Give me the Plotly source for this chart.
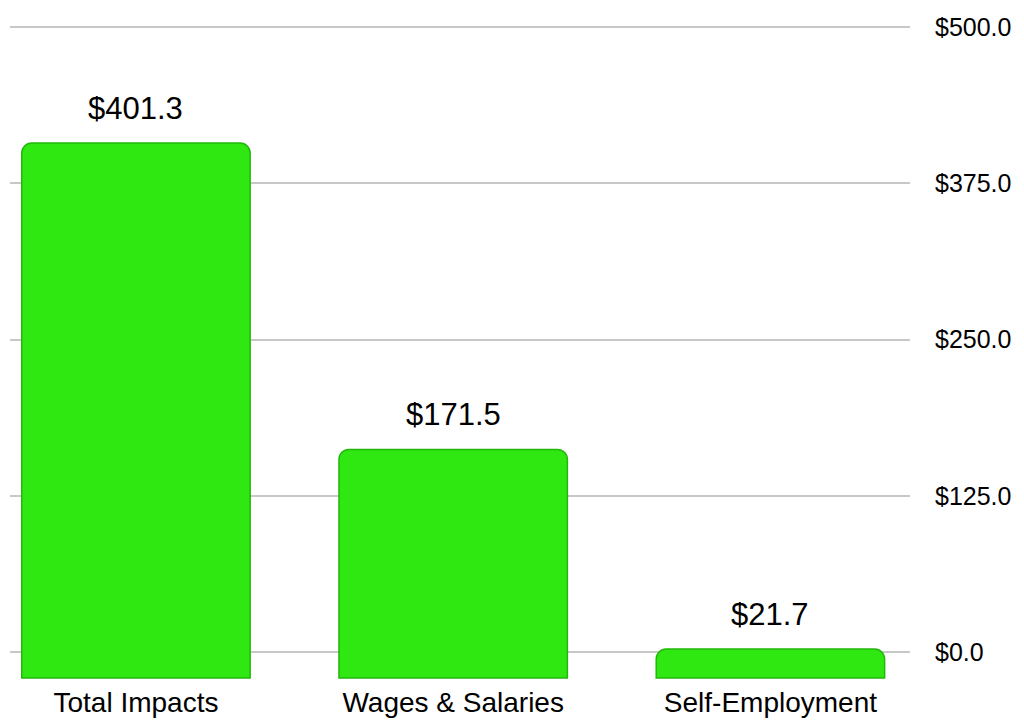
import plotly.graph_objects as go

categories = ["Total Impacts", "Wages & Salaries", "Self-Employment"]
values = [401.3, 171.5, 21.7]
tick_vals = [0, 125, 250, 375, 500]
tick_text = ["$0.0", "$125.0", "$250.0", "$375.0", "$500.0"]

FONT = "Liberation Sans, Arial, Helvetica, sans-serif"

fig = go.Figure()
# invisible trace to anchor gridline axis
fig.add_trace(go.Scatter(x=[0], y=[0], mode="markers", marker=dict(opacity=0),
                         hoverinfo="skip", showlegend=False, xaxis="x", yaxis="y"))
fig.add_trace(go.Bar(
    x=list(range(len(categories))), y=values, width=0.72,
    marker=dict(color="#2fe812", line=dict(color="#22b80b", width=1.5)),
    xaxis="x", yaxis="y2", showlegend=False, hoverinfo="skip",
))

for i, v in enumerate(values):
    fig.add_annotation(x=i, y=v, xref="x", yref="y2", text=f"${v:.1f}",
                       showarrow=False, yanchor="middle", yshift=35,
                       font=dict(size=31, color="#000000", family=FONT))

fig.update_layout(
    width=1016, height=713,
    margin=dict(l=2, r=114, t=12, b=39, autoexpand=False),
    paper_bgcolor="white", plot_bgcolor="white",
    barcornerradius=10,
    xaxis=dict(range=[-0.397, 2.44], tickvals=list(range(len(categories))),
               ticktext=categories, showgrid=False, zeroline=False,
               showline=False, ticks="", ticklabelstandoff=1, automargin=False,
               tickfont=dict(size=28, color="#000000", family=FONT)),
    yaxis=dict(range=[-24.0, 505.6], tickvals=tick_vals, ticktext=tick_text,
               side="right", showgrid=True, gridcolor="#c8c8c8", gridwidth=2,
               zeroline=False, showline=False, ticks="", ticklabelstandoff=24,
               automargin=False,
               tickfont=dict(size=25, color="#000000", family=FONT)),
    yaxis2=dict(range=[-3.0, 493.6], overlaying="y", visible=False,
                showgrid=False, zeroline=False, automargin=False),
)

fig.write_html("out.html")
